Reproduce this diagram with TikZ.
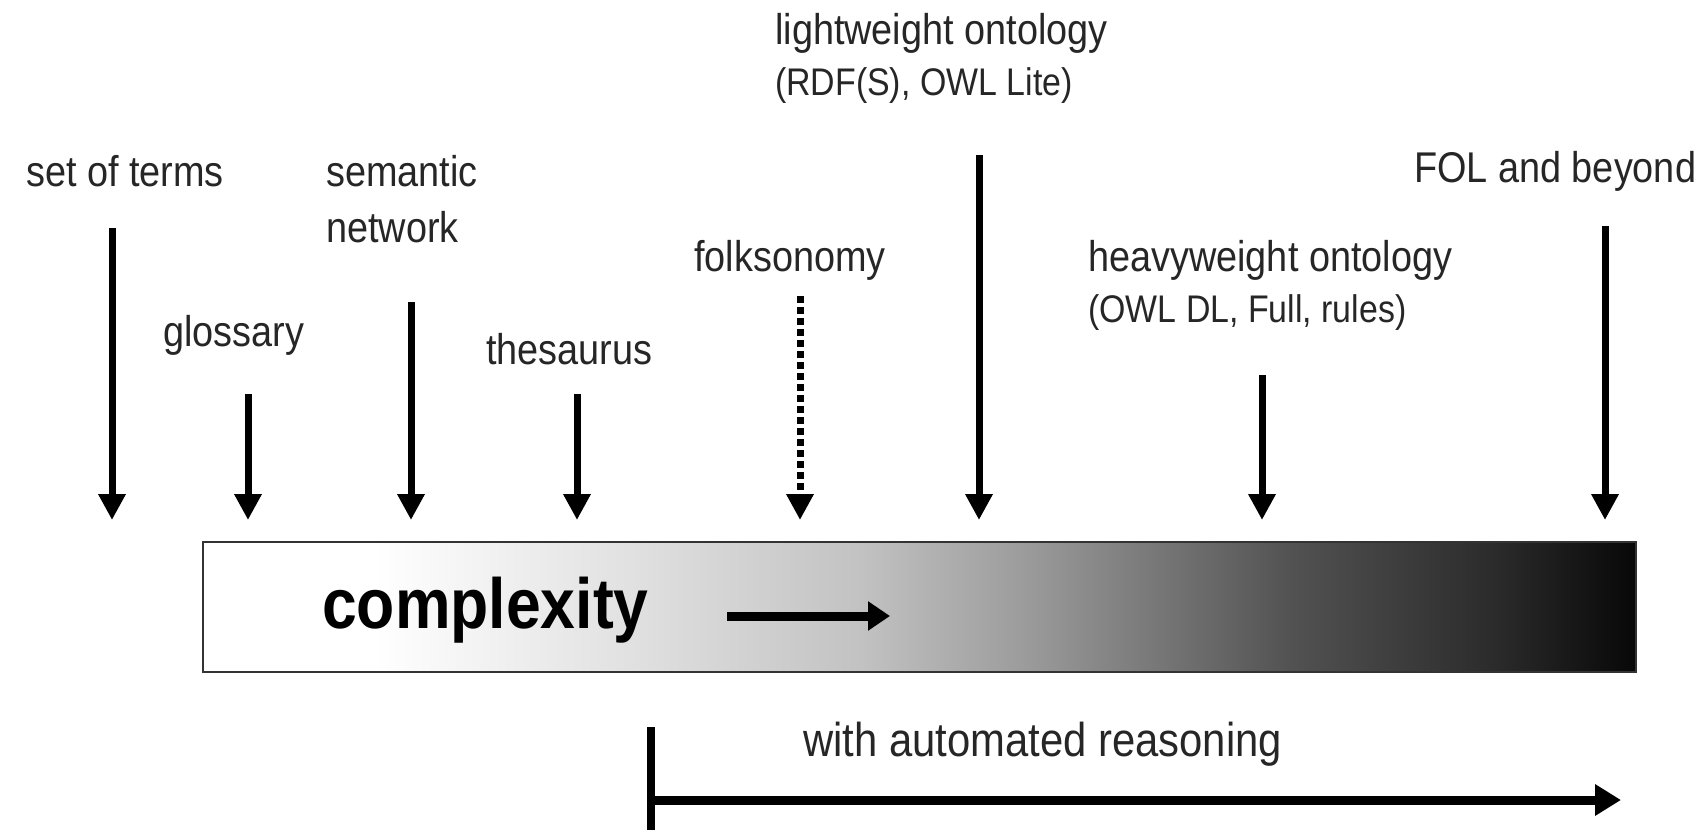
\documentclass[tikz,border=0pt]{standalone}
\usepackage{fontspec}
\setmainfont[FakeStretch=0.88]{Liberation Sans}
\usetikzlibrary{arrows.meta}
\pgfdeclarehorizontalshading{complexityshade}{100bp}{color(0bp)=(white); color(31bp)=(white); color(40bp)=(black!12); color(48bp)=(black!24); color(54bp)=(black!40); color(63bp)=(black!68); color(70bp)=(black!83); color(75bp)=(black!97); color(100bp)=(black!97)}
\begin{document}
\begin{tikzpicture}[
    x=1pt, y=-1pt,
    lbl/.style={anchor=base west, inner sep=0pt, text=black!85, font=\fontsize{43}{50}\selectfont},
    sublbl/.style={lbl, font=\fontsize{38.5}{44}\selectfont},
    down/.style={line width=7pt, -{Triangle[width=26pt,length=26pt]}},
    dashdown/.style={down, dash pattern=on 7pt off 4pt}
    ]
  \useasboundingbox (0,0) rectangle (1706,830);
	\node (bar) [draw=black!80, line width=2pt, shading=complexityshade,
		minimum width=1433pt, minimum height=130pt, inner sep=0pt] at (919.5,607) {};
	\node (cplx) [anchor=base west, inner sep=0pt, font=\fontsize{71}{80}\selectfont\bfseries] at (322,628) {complexity};
	\coordinate (ca) at (727,616);
	\coordinate (cb) at (890,616);
	\draw [line width=9pt, -{Triangle[width=28pt,length=22pt]}] (ca) -- (cb);

	\node (terms) [lbl] at (26,186) {set of terms};
	\node (gloss) [lbl] at (163,346) {glossary};
	\node (sem) [lbl] at (326,186) {semantic};
	\node (net) [lbl] at (326,242) {network};
	\node (thes) [lbl] at (486,364) {thesaurus};
	\node (folk) [lbl] at (694,271) {folksonomy};
	\node (light) [lbl] at (775,44) {lightweight ontology};
	\node (lightsub) [sublbl] at (775,95) {(RDF(S), OWL Lite)};
	\node (heavy) [lbl] at (1088,271) {heavyweight ontology};
	\node (heavysub) [sublbl] at (1088,322) {(OWL DL, Full, rules)};
	\node (fol) [lbl] at (1414,182) {FOL and beyond};

	\coordinate (tips) at (0,520);
	\coordinate (terms-top) at (112,228);
	\coordinate (gloss-top) at (248,394);
	\coordinate (sem-top) at (411,302);
	\coordinate (thes-top) at (577,394);
	\coordinate (folk-top) at (800,296);
	\coordinate (light-top) at (979,155);
	\coordinate (heavy-top) at (1262,375);
	\coordinate (fol-top) at (1605,226);
	\draw [down] (terms-top) -- (terms-top |- tips);
	\draw [down] (gloss-top) -- (gloss-top |- tips);
	\draw [down] (sem-top) -- (sem-top |- tips);
	\draw [down] (thes-top) -- (thes-top |- tips);
	\draw [dashdown] (folk-top) -- (folk-top |- tips);
	\draw [down] (light-top) -- (light-top |- tips);
	\draw [down] (heavy-top) -- (heavy-top |- tips);
	\draw [down] (fol-top) -- (fol-top |- tips);

	% automated reasoning
	\coordinate (rs) at (651,727);
	\coordinate (rb) at (651,830);
	\coordinate (re) at (1621,800);
	\draw [line width=8pt] (rs) -- (rb);
	\draw [line width=9pt, -{Triangle[width=30pt,length=26pt]}] (rs |- re) -- (re);
	\node (reason) [lbl, font=\fontsize{47.5}{54}\selectfont] at (803,756) {with automated reasoning};
\end{tikzpicture}
\end{document}
